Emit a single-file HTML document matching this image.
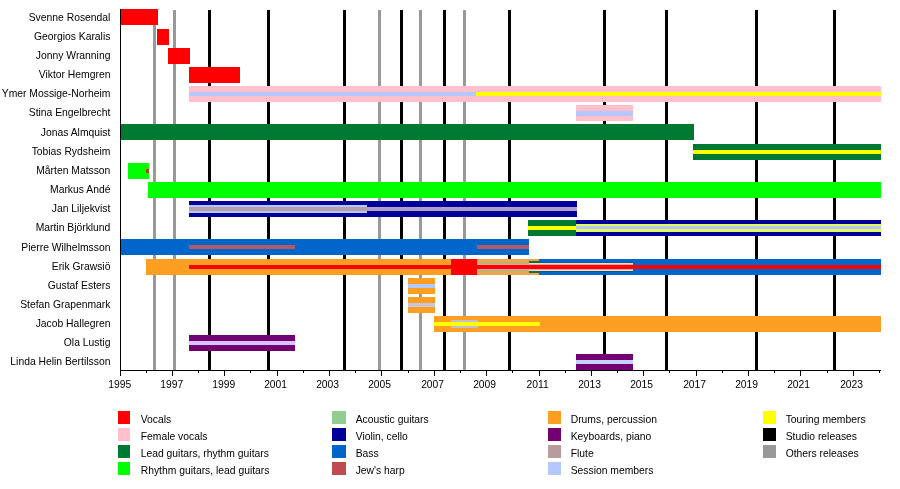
<!DOCTYPE html>
<html><head><meta charset="utf-8"><style>
html,body{margin:0;padding:0;background:#fff;}
body{width:900px;height:489px;overflow:hidden;}
svg{display:block;}
.t{font-family:"Liberation Sans",sans-serif;font-size:10.35px;fill:#000;}
.y{font-size:10.3px;}
.tg{will-change:transform;}
</style></head><body>
<div style="will-change:transform;width:900px;height:489px"><svg width="900" height="489" viewBox="0 0 900 489" shape-rendering="crispEdges">
<rect x="0" y="0" width="900" height="489" fill="#fff"/>
<rect x="153.00" y="10.00" width="3.00" height="360.00" fill="#999999"/>
<rect x="173.00" y="10.00" width="3.00" height="360.00" fill="#999999"/>
<rect x="378.00" y="10.00" width="3.00" height="360.00" fill="#999999"/>
<rect x="419.00" y="10.00" width="3.00" height="360.00" fill="#999999"/>
<rect x="463.00" y="10.00" width="3.00" height="360.00" fill="#999999"/>
<rect x="208.00" y="10.00" width="3.00" height="360.00" fill="#000000"/>
<rect x="267.00" y="10.00" width="3.00" height="360.00" fill="#000000"/>
<rect x="343.00" y="10.00" width="3.00" height="360.00" fill="#000000"/>
<rect x="400.00" y="10.00" width="3.00" height="360.00" fill="#000000"/>
<rect x="443.00" y="10.00" width="3.00" height="360.00" fill="#000000"/>
<rect x="508.00" y="10.00" width="3.00" height="360.00" fill="#000000"/>
<rect x="603.00" y="10.00" width="3.00" height="360.00" fill="#000000"/>
<rect x="665.00" y="10.00" width="3.00" height="360.00" fill="#000000"/>
<rect x="755.00" y="10.00" width="3.00" height="360.00" fill="#000000"/>
<rect x="833.00" y="10.00" width="3.00" height="360.00" fill="#000000"/>
<rect x="120.50" y="9.00" width="37.40" height="15.70" fill="#ff0000"/>
<rect x="157.20" y="29.00" width="11.70" height="15.70" fill="#ff0000"/>
<rect x="168.10" y="47.90" width="21.60" height="15.70" fill="#ff0000"/>
<rect x="189.00" y="66.90" width="50.80" height="15.70" fill="#ff0000"/>
<rect x="189.00" y="86.00" width="692.00" height="15.70" fill="#ffc0cb"/>
<rect x="189.00" y="91.60" width="287.30" height="4.50" fill="#b4c8ff"/>
<rect x="476.30" y="91.60" width="404.70" height="4.50" fill="#ffff00"/>
<rect x="575.50" y="105.40" width="57.50" height="15.70" fill="#ffc0cb"/>
<rect x="575.50" y="111.00" width="57.50" height="4.50" fill="#b4c8ff"/>
<rect x="120.50" y="124.00" width="573.40" height="15.70" fill="#007a33"/>
<rect x="692.90" y="143.90" width="188.10" height="15.70" fill="#007a33"/>
<rect x="692.90" y="149.50" width="188.10" height="4.50" fill="#ffff00"/>
<rect x="128.20" y="162.90" width="20.70" height="15.70" fill="#00ff00"/>
<rect x="146.20" y="168.75" width="2.70" height="4.00" fill="#d03020"/>
<rect x="147.90" y="181.90" width="733.10" height="15.70" fill="#00ff00"/>
<rect x="189.10" y="201.00" width="387.80" height="15.70" fill="#000099"/>
<rect x="189.10" y="204.85" width="177.60" height="8.00" fill="#b4c8ff"/>
<rect x="189.10" y="206.95" width="177.60" height="3.80" fill="#b4a0a8"/>
<rect x="366.70" y="206.95" width="210.20" height="3.80" fill="#b0a0c8"/>
<rect x="528.20" y="220.10" width="47.90" height="15.70" fill="#007a33"/>
<rect x="528.20" y="225.70" width="47.90" height="4.50" fill="#ffff00"/>
<rect x="576.10" y="220.10" width="304.90" height="15.70" fill="#000099"/>
<rect x="576.10" y="223.95" width="304.90" height="8.00" fill="#e0ff58"/>
<rect x="576.10" y="226.45" width="304.90" height="3.00" fill="#b4c8ff"/>
<rect x="120.50" y="239.00" width="408.30" height="15.70" fill="#0066cc"/>
<rect x="189.10" y="245.05" width="105.40" height="3.60" fill="#b45a64"/>
<rect x="477.30" y="245.05" width="51.50" height="3.60" fill="#b45a64"/>
<rect x="146.20" y="259.10" width="392.30" height="15.70" fill="#fc9e22"/>
<rect x="477.00" y="259.10" width="61.50" height="15.70" fill="#eaa650"/>
<rect x="538.50" y="259.10" width="342.50" height="15.70" fill="#0066cc"/>
<rect x="477.00" y="262.25" width="51.80" height="9.40" fill="#c0b070"/>
<rect x="528.80" y="260.85" width="9.70" height="12.20" fill="#1a6a40"/>
<rect x="538.50" y="261.95" width="94.50" height="10.00" fill="#0a5a78"/>
<rect x="528.80" y="262.85" width="104.20" height="8.20" fill="#d8e4dc"/>
<rect x="477.00" y="264.25" width="156.00" height="5.40" fill="#f0a0a0"/>
<rect x="189.10" y="265.05" width="691.90" height="3.80" fill="#ff0000"/>
<rect x="450.90" y="259.10" width="25.90" height="15.70" fill="#ff0000"/>
<rect x="408.20" y="278.20" width="26.50" height="15.70" fill="#fc9e22"/>
<rect x="408.20" y="283.80" width="26.50" height="4.50" fill="#b4c8ff"/>
<rect x="408.20" y="297.20" width="26.50" height="15.70" fill="#fc9e22"/>
<rect x="408.20" y="302.80" width="26.50" height="4.50" fill="#c8c4dc"/>
<rect x="434.10" y="316.10" width="446.90" height="15.70" fill="#fc9e22"/>
<rect x="450.90" y="319.95" width="27.10" height="8.00" fill="#c0c0c8"/>
<rect x="434.10" y="321.70" width="105.90" height="4.50" fill="#ffff00"/>
<rect x="189.10" y="335.10" width="105.90" height="15.70" fill="#730073"/>
<rect x="189.10" y="340.70" width="105.90" height="4.50" fill="#d8c4ff"/>
<rect x="576.20" y="354.00" width="56.80" height="15.70" fill="#730073"/>
<rect x="576.20" y="359.60" width="56.80" height="4.50" fill="#c8d0ff"/>
<rect x="120.00" y="9.00" width="1.00" height="362.00" fill="#000"/>
<rect x="120.00" y="370.00" width="761.00" height="1.00" fill="#000"/>
<rect x="120.00" y="370.00" width="1.00" height="6.00" fill="#000"/>
<text x="119.80" y="387.7" text-anchor="middle" class="t y">1995</text>
<rect x="146.00" y="370.00" width="1.00" height="3.00" fill="#000"/>
<rect x="172.00" y="370.00" width="1.00" height="6.00" fill="#000"/>
<text x="171.80" y="387.7" text-anchor="middle" class="t y">1997</text>
<rect x="198.00" y="370.00" width="1.00" height="3.00" fill="#000"/>
<rect x="224.00" y="370.00" width="1.00" height="6.00" fill="#000"/>
<text x="223.80" y="387.7" text-anchor="middle" class="t y">1999</text>
<rect x="250.00" y="370.00" width="1.00" height="3.00" fill="#000"/>
<rect x="277.00" y="370.00" width="1.00" height="6.00" fill="#000"/>
<text x="275.60" y="387.7" text-anchor="middle" class="t y">2001</text>
<rect x="303.00" y="370.00" width="1.00" height="3.00" fill="#000"/>
<rect x="329.00" y="370.00" width="1.00" height="6.00" fill="#000"/>
<text x="327.60" y="387.7" text-anchor="middle" class="t y">2003</text>
<rect x="355.00" y="370.00" width="1.00" height="3.00" fill="#000"/>
<rect x="381.00" y="370.00" width="1.00" height="6.00" fill="#000"/>
<text x="379.60" y="387.7" text-anchor="middle" class="t y">2005</text>
<rect x="408.00" y="370.00" width="1.00" height="3.00" fill="#000"/>
<rect x="434.00" y="370.00" width="1.00" height="6.00" fill="#000"/>
<text x="432.60" y="387.7" text-anchor="middle" class="t y">2007</text>
<rect x="460.00" y="370.00" width="1.00" height="3.00" fill="#000"/>
<rect x="486.00" y="370.00" width="1.00" height="6.00" fill="#000"/>
<text x="484.60" y="387.7" text-anchor="middle" class="t y">2009</text>
<rect x="512.00" y="370.00" width="1.00" height="3.00" fill="#000"/>
<rect x="539.00" y="370.00" width="1.00" height="6.00" fill="#000"/>
<text x="537.60" y="387.7" text-anchor="middle" class="t y">2011</text>
<rect x="565.00" y="370.00" width="1.00" height="3.00" fill="#000"/>
<rect x="591.00" y="370.00" width="1.00" height="6.00" fill="#000"/>
<text x="589.60" y="387.7" text-anchor="middle" class="t y">2013</text>
<rect x="617.00" y="370.00" width="1.00" height="3.00" fill="#000"/>
<rect x="643.00" y="370.00" width="1.00" height="6.00" fill="#000"/>
<text x="641.60" y="387.7" text-anchor="middle" class="t y">2015</text>
<rect x="669.00" y="370.00" width="1.00" height="3.00" fill="#000"/>
<rect x="696.00" y="370.00" width="1.00" height="6.00" fill="#000"/>
<text x="694.60" y="387.7" text-anchor="middle" class="t y">2017</text>
<rect x="722.00" y="370.00" width="1.00" height="3.00" fill="#000"/>
<rect x="748.00" y="370.00" width="1.00" height="6.00" fill="#000"/>
<text x="746.60" y="387.7" text-anchor="middle" class="t y">2019</text>
<rect x="774.00" y="370.00" width="1.00" height="3.00" fill="#000"/>
<rect x="800.00" y="370.00" width="1.00" height="6.00" fill="#000"/>
<text x="798.60" y="387.7" text-anchor="middle" class="t y">2021</text>
<rect x="827.00" y="370.00" width="1.00" height="3.00" fill="#000"/>
<rect x="853.00" y="370.00" width="1.00" height="6.00" fill="#000"/>
<text x="851.60" y="387.7" text-anchor="middle" class="t y">2023</text>
<rect x="879.00" y="370.00" width="1.00" height="3.00" fill="#000"/>
<text x="110.4" y="20.70" text-anchor="end" class="t">Svenne Rosendal</text>
<text x="110.4" y="39.86" text-anchor="end" class="t">Georgios Karalis</text>
<text x="110.4" y="59.01" text-anchor="end" class="t">Jonny Wranning</text>
<text x="110.4" y="78.17" text-anchor="end" class="t">Viktor Hemgren</text>
<text x="110.4" y="97.32" text-anchor="end" class="t">Ymer Mossige-Norheim</text>
<text x="110.4" y="116.48" text-anchor="end" class="t">Stina Engelbrecht</text>
<text x="110.4" y="135.63" text-anchor="end" class="t">Jonas Almquist</text>
<text x="110.4" y="154.78" text-anchor="end" class="t">Tobias Rydsheim</text>
<text x="110.4" y="173.94" text-anchor="end" class="t">Mårten Matsson</text>
<text x="110.4" y="193.09" text-anchor="end" class="t">Markus Andé</text>
<text x="110.4" y="212.25" text-anchor="end" class="t">Jan Liljekvist</text>
<text x="110.4" y="231.41" text-anchor="end" class="t">Martin Björklund</text>
<text x="110.4" y="250.56" text-anchor="end" class="t">Pierre Wilhelmsson</text>
<text x="110.4" y="269.72" text-anchor="end" class="t">Erik Grawsiö</text>
<text x="110.4" y="288.87" text-anchor="end" class="t">Gustaf Esters</text>
<text x="110.4" y="308.03" text-anchor="end" class="t">Stefan Grapenmark</text>
<text x="110.4" y="327.18" text-anchor="end" class="t">Jacob Hallegren</text>
<text x="110.4" y="346.33" text-anchor="end" class="t">Ola Lustig</text>
<text x="110.4" y="365.49" text-anchor="end" class="t">Linda Helin Bertilsson</text>
<rect x="118.00" y="411.00" width="12.00" height="13.00" fill="#ff0000"/>
<text x="140.70" y="422.90" class="t">Vocals</text>
<rect x="118.00" y="428.00" width="12.00" height="13.00" fill="#ffc0cb"/>
<text x="140.70" y="439.90" class="t">Female vocals</text>
<rect x="118.00" y="445.00" width="12.00" height="13.00" fill="#007a33"/>
<text x="140.70" y="456.90" class="t">Lead guitars, rhythm guitars</text>
<rect x="118.00" y="462.00" width="12.00" height="13.00" fill="#00ff00"/>
<text x="140.70" y="473.90" class="t">Rhythm guitars, lead guitars</text>
<rect x="332.00" y="411.00" width="14.00" height="13.00" fill="#91cd91"/>
<text x="355.70" y="422.90" class="t">Acoustic guitars</text>
<rect x="332.00" y="428.00" width="14.00" height="13.00" fill="#000099"/>
<text x="355.70" y="439.90" class="t">Violin, cello</text>
<rect x="332.00" y="445.00" width="14.00" height="13.00" fill="#0066cc"/>
<text x="355.70" y="456.90" class="t">Bass</text>
<rect x="332.00" y="462.00" width="14.00" height="13.00" fill="#be4b50"/>
<text x="355.70" y="473.90" class="t">Jew's harp</text>
<rect x="548.00" y="411.00" width="13.00" height="13.00" fill="#fc9e22"/>
<text x="570.70" y="422.90" class="t">Drums, percussion</text>
<rect x="548.00" y="428.00" width="13.00" height="13.00" fill="#730073"/>
<text x="570.70" y="439.90" class="t">Keyboards, piano</text>
<rect x="548.00" y="445.00" width="13.00" height="13.00" fill="#b89c9c"/>
<text x="570.70" y="456.90" class="t">Flute</text>
<rect x="548.00" y="462.00" width="13.00" height="13.00" fill="#b4c8ff"/>
<text x="570.70" y="473.90" class="t">Session members</text>
<rect x="763.00" y="411.00" width="13.00" height="13.00" fill="#ffff00"/>
<text x="785.70" y="422.90" class="t">Touring members</text>
<rect x="763.00" y="428.00" width="13.00" height="13.00" fill="#000000"/>
<text x="785.70" y="439.90" class="t">Studio releases</text>
<rect x="763.00" y="445.00" width="13.00" height="13.00" fill="#999999"/>
<text x="785.70" y="456.90" class="t">Others releases</text>
</svg></div></body></html>
